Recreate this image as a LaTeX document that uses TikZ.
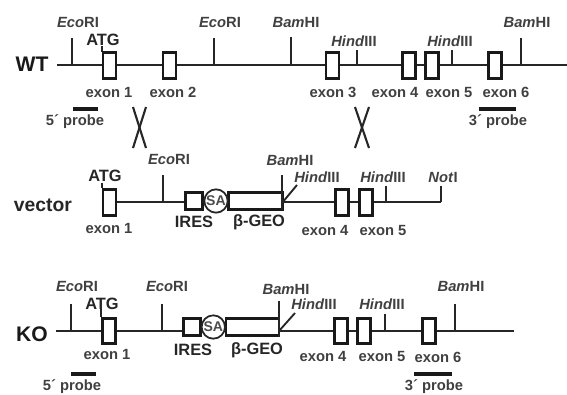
\documentclass[tikz,border=0pt]{standalone}
\usepackage{fontspec}
\setmainfont{Liberation Sans}
\usetikzlibrary{calc}

\tikzset{
  lab/.style={font=\bfseries\fontsize{12.6}{12.6}\selectfont, text=black!75, inner sep=0pt},
  bigl/.style={font=\bfseries\fontsize{14}{14}\selectfont, text=black!85, inner sep=0pt},
  tag/.style={font=\bfseries\fontsize{18}{18}\selectfont, text=black!90, inner sep=0pt},
  dna/.style={line width=1.7pt, black!85},
  site/.style={line width=1.6pt, black!85},
  bar/.style={line width=3pt, black!90},
  swap/.style={line width=1.8pt, black!85},
  exon/.style={draw=black!90, fill=white, line width=2.3pt, inner sep=0pt, outer sep=0pt,
    minimum width=0.39cm, minimum height=0.77cm},
  cassette/.style={draw=black!90, fill=white, line width=2.3pt, inner sep=0pt, outer sep=0pt,
    minimum height=0.52cm},
  sa/.style={circle, draw=black!85, fill=white, line width=1.5pt, inner sep=0pt, outer sep=0pt,
    minimum size=0.7cm, font=\bfseries\fontsize{12}{12}\selectfont, text=black!70},
}

\begin{document}
\begin{tikzpicture}[x=0.03cm, y=-0.03cm]
  \useasboundingbox (0,0) rectangle (567,394);

  % alelo WT
  \node[tag] (wtTag) at (32,64) {WT};
  \coordinate (wtL) at (57,65);
  \coordinate (wtR) at (567,65);
  \draw[dna] (wtL) -- (wtR);
  \draw[site] (72,65) coordinate (wtEcoA) -- (72,38) coordinate (wtEcoAtop);
  \draw[site] (214,65) coordinate (wtEcoB) -- (214,38) coordinate (wtEcoBtop);
  \draw[site] (291,65) coordinate (wtBamA) -- (291,37) coordinate (wtBamAtop);
  \draw[site] (357,65) coordinate (wtHinA) -- (357,50) coordinate (wtHinAtop);
  \draw[site] (452,65) coordinate (wtHinB) -- (452,50) coordinate (wtHinBtop);
  \draw[site] (521,65) coordinate (wtBamB) -- (521,38) coordinate (wtBamBtop);
  \draw[site] (102,52) coordinate (wtAtgB) -- (102,46) coordinate (wtAtgT);
  \node[exon] (wtE1) at (109.5,65.5) {};
  \node[exon] (wtE2) at (169.5,65.5) {};
  \node[exon] (wtE3) at (332.5,65.5) {};
  \node[exon] (wtE4) at (409,65.5) {};
  \node[exon] (wtE5) at (431.7,65.5) {};
  \node[exon] (wtE6) at (495,65.5) {};
  \node[lab] (wtEcoAl) at (78,22) {\textit{Eco}RI};
  \node[lab] (wtEcoBl) at (220,22) {\textit{Eco}RI};
  \node[lab] (wtBamAl) at (296,22) {\textit{Bam}HI};
  \node[lab] (wtHinAl) at (354,41) {\textit{Hind}III};
  \node[lab] (wtHinBl) at (450,41) {\textit{Hind}III};
  \node[lab] (wtBamBl) at (527,22) {\textit{Bam}HI};
  \node[bigl] (wtAtg) at (103,40) {ATG};
  \node[lab] (wtE1l) at (109,92) {exon 1};
  \node[lab] (wtE2l) at (173,92) {exon 2};
  \node[lab] (wtE3l) at (333,92) {exon 3};
  \node[lab] (wtE4l) at (395,92) {exon 4};
  \node[lab] (wtE5l) at (449,92) {exon 5};
  \node[lab] (wtE6l) at (506,92) {exon 6};
  % sondas WT
  \coordinate (wtP5a) at (73,109);
  \coordinate (wtP5b) at (98,109);
  \coordinate (wtP3a) at (479,109);
  \coordinate (wtP3b) at (516,109);
  \draw[bar] (wtP5a) -- (wtP5b);
  \draw[bar] (wtP3a) -- (wtP3b);
  \node[lab] (wtP5l) at (75,122) {5´ probe};
  \node[lab] (wtP3l) at (498,122) {3´ probe};

  % recombinacao
  \draw[swap] (133,107) coordinate (xAa) -- (146,148) coordinate (xAb);
  \draw[swap] (146,107) coordinate (xAc) -- (133,148) coordinate (xAd);
  \draw[swap] (355,107) coordinate (xBa) -- (369,148) coordinate (xBb);
  \draw[swap] (369,107) coordinate (xBc) -- (355,148) coordinate (xBd);

  % vetor
  \node[font=\bfseries\fontsize{16.5}{16.5}\selectfont, text=black!85, inner sep=0pt] (vecTag) at (43,205) {vector};
  \coordinate (vecL) at (109,202);
  \coordinate (vecR) at (441,202);
  \draw[dna] (vecL) -- (vecR);
  \draw[site] (vecR) -- (441,186) coordinate (vecNotTop);
  \draw[site] (163,202) coordinate (vecEco) -- (163,175) coordinate (vecEcoTop);
  \draw[site] (386,202) coordinate (vecHin) -- (386,186) coordinate (vecHinTop);
  \draw[site] (102,188) coordinate (vecAtgB) -- (102,183) coordinate (vecAtgT);
  \node[exon] (vecE1) at (109.5,202.5) {};
  \node[exon] (vecE4) at (342.3,202.5) {};
  \node[exon] (vecE5) at (365.7,202.5) {};
  \node[cassette, minimum width=0.52cm] (vecIres) at (194,201) {};
  \node[cassette, minimum width=1.62cm] (vecGeo) at (255.5,201) {};
  \node[sa] (vecSa) at (216,201) {SA};
  \draw[site] (282,210) coordinate (vecBam) -- (282,175) coordinate (vecBamTop);
  \draw[site] (282,203) coordinate (vecSlash) -- (297,185) coordinate (vecSlashTop);
  \node[lab] (vecEcol) at (169,159) {\textit{Eco}RI};
  \node[lab] (vecBaml) at (290,160) {\textit{Bam}HI};
  \node[lab] (vecHinAl) at (317,177) {\textit{Hind}III};
  \node[lab] (vecHinBl) at (383,177) {\textit{Hind}III};
  \node[lab] (vecNotl) at (443,177) {\textit{Not}I};
  \node[bigl] (vecAtg) at (105,176) {ATG};
  \node[lab] (vecE1l) at (109,228) {exon 1};
  \node[lab] (vecE4l) at (325,230) {exon 4};
  \node[lab] (vecE5l) at (383,230) {exon 5};
  \node[bigl] (vecIresl) at (194,222) {IRES};
  \node[bigl] (vecGeol) at (259,222) {β-GEO};

  % alelo KO
  \node[tag] (koTag) at (32,334) {KO};
  \coordinate (koL) at (56,331);
  \coordinate (koR) at (514,331);
  \draw[dna] (koL) -- (koR);
  \draw[site] (71,331) coordinate (koEcoA) -- (71,304) coordinate (koEcoAtop);
  \draw[site] (162,331) coordinate (koEcoB) -- (162,304) coordinate (koEcoBtop);
  \draw[site] (385,331) coordinate (koHin) -- (385,314) coordinate (koHinTop);
  \draw[site] (455,331) coordinate (koBam) -- (455,304) coordinate (koBamTop);
  \draw[site] (101,317) coordinate (koAtgB) -- (101,309) coordinate (koAtgT);
  \node[exon] (koE1) at (109,331) {};
  \node[exon] (koE4) at (341.3,331) {};
  \node[exon] (koE5) at (364,331) {};
  \node[exon] (koE6) at (429,331) {};
  \node[cassette, minimum width=0.52cm] (koIres) at (192,327) {};
  \node[cassette, minimum width=1.59cm] (koGeo) at (252.5,327) {};
  \node[sa] (koSa) at (213.3,327) {SA};
  \draw[site] (279,337) coordinate (koBamA) -- (279,301) coordinate (koBamAtop);
  \draw[site] (279,331) coordinate (koSlash) -- (295,313) coordinate (koSlashTop);
  \node[lab] (koEcoAl) at (77,286) {\textit{Eco}RI};
  \node[lab] (koEcoBl) at (167,286) {\textit{Eco}RI};
  \node[lab] (koBamAl) at (286,289) {\textit{Bam}HI};
  \node[lab] (koHinAl) at (314,304) {\textit{Hind}III};
  \node[lab] (koHinBl) at (382,304) {\textit{Hind}III};
  \node[lab] (koBamBl) at (461,286) {\textit{Bam}HI};
  \node[bigl] (koAtg) at (102,304) {ATG};
  \node[lab] (koE1l) at (107,354) {exon 1};
  \node[lab] (koE4l) at (323,356) {exon 4};
  \node[lab] (koE5l) at (382,356) {exon 5};
  \node[lab] (koE6l) at (438,357) {exon 6};
  \node[bigl] (koIresl) at (193,350) {IRES};
  \node[bigl] (koGeol) at (257,350) {β-GEO};
  % sondas KO
  \coordinate (koP5a) at (71,374);
  \coordinate (koP5b) at (96,374);
  \coordinate (koP3a) at (414,374);
  \coordinate (koP3b) at (452,374);
  \draw[bar] (koP5a) -- (koP5b);
  \draw[bar] (koP3a) -- (koP3b);
  \node[lab] (koP5l) at (72,387) {5´ probe};
  \node[lab] (koP3l) at (434,387) {3´ probe};
\end{tikzpicture}
\end{document}
